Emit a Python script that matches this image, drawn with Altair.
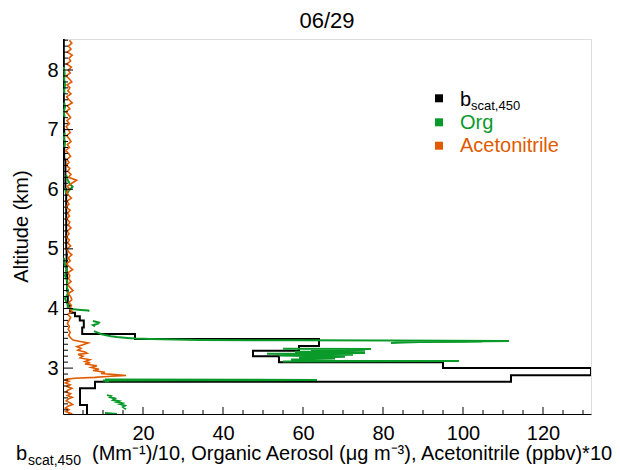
import altair as alt
import pandas as pd

FONT = "Liberation Sans"
W, H = 528, 375
XMAX = 132
YMIN, YMAX = 2.23, 8.52

BLACK = "#000000"
GREEN = "#0a9a2a"
ORANGE = "#e05a00"

# ---- b_scat,450 / 10 : binned step profile (bin edges in km, values) ----
bscat_edges = [2.23, 2.38, 2.66, 2.77, 2.88, 3.00, 3.10, 3.20, 3.29, 3.37, 3.49,
               3.57, 3.68, 3.80, 3.87, 3.93, 4.05, 4.30, 4.60, 5.00, 5.50, 6.00,
               6.50, 7.00, 8.52]
bscat_vals = [6.0, 4.25, 8.0, 112.0, 132.0, 95.0, 54.0, 47.5, 59.0, 64.0, 18.0,
              4.8, 5.2, 4.2, 3.0, 1.8, 1.2, 1.0, 0.9, 0.8, 0.8, 0.6, 0.3, 0.2]

# ---- Organic aerosol (segments separated by data gaps) ----
org_alt = [8.05, 7.95, 7.85, 7.75, 7.65, 7.60,
           7.45, 7.38, 7.30, 7.20,
           6.95, 6.85, 6.78, 6.70,
           6.24, 6.15, 6.08, 6.04, 5.98, 5.93, 5.95, 6.02,
           4.85, 4.75, 4.65, 4.55, 4.45, 4.36, 4.25, 4.17, 4.10, 4.06, 4.02, 3.99, 3.975, 3.965, 3.955,
           3.79, 3.765, 3.745, 3.72, 3.70,
           3.62, 3.60, 3.587, 3.57, 3.554, 3.535, 3.52, 3.505, 3.495, 3.487, 3.478, 3.47,
           3.468, 3.462, 3.455, 3.448, 3.442, 3.436, 3.43, 3.42,
           3.325, 3.32, 3.305, 3.29, 3.275, 3.255, 3.24, 3.225, 3.21, 3.19, 3.175, 3.16,
           3.145, 3.125, 3.117, 3.112,
           2.81, 2.80, 2.795, 2.79, 2.78, 2.77,
           2.547, 2.53, 2.513, 2.49, 2.463, 2.445, 2.43, 2.41, 2.396, 2.37, 2.346, 2.31,
           2.245, 2.237, 2.23]
org_val = [0.2, 0.4, 0.3, 0.5, 0.3, 0.4,
           0.3, 0.5, 0.2, 0.4,
           0.4, 0.2, 0.5, 0.3,
           0.8, 1.2, 1.8, 2.4, 1.5, 1.0, 0.7, 0.6,
           0.3, 0.4, 0.9, 0.5, 1.1, 1.0, 1.3, 0.5, 0.9, 1.3, 1.2, 2.0, 4.5, 6.3, 6.6,
           7.5, 9.0, 8.75, 7.5, 8.0,
           7.75, 8.5, 9.0, 9.5, 10.5, 12.0, 13.5, 16.0, 18.0, 21.75, 28.0, 34.25,
           59.25, 81.75, 111.5, 100.0, 104.75, 89.25, 85.0, 82.0,
           55.0, 77.0, 62.0, 75.5, 58.0, 75.5, 51.0, 72.5, 54.0, 70.5, 59.0, 68.0,
           57.0, 64.0, 99.0, 55.0,
           10.5, 63.5, 30.0, 10.0, 11.5, 10.5,
           11.0, 12.0, 11.75, 13.0, 12.5, 14.0, 13.5, 14.8, 14.25, 15.5, 15.0, 15.75,
           10.5, 12.0, 13.5]
org_seg = ([0] * 6 + [1] * 4 + [2] * 4 + [3] * 8 + [4] * 15 + [5] * 5 +
           [6] * 20 + [7] * 16 + [8] * 6 + [9] * 12 + [10] * 3)

# ---- Acetonitrile * 10 ----
acn_alt = [8.50, 8.45, 8.40, 8.35, 8.30, 8.25, 8.20, 8.15, 8.10, 8.05,
           8.00, 7.95, 7.90, 7.85, 7.80, 7.75, 7.70, 7.65, 7.60, 7.55,
           7.50, 7.45, 7.40, 7.35, 7.30, 7.25, 7.20, 7.15, 7.10, 7.05,
           7.00, 6.95, 6.90, 6.85, 6.80, 6.75, 6.70, 6.65, 6.60, 6.55,
           6.50, 6.45, 6.40, 6.35, 6.30, 6.25, 6.20, 6.15, 6.10, 6.05,
           6.00, 5.95, 5.90, 5.85, 5.80, 5.75, 5.70, 5.65, 5.60, 5.55,
           5.50, 5.45, 5.40, 5.35, 5.30, 5.25, 5.20, 5.15, 5.10, 5.05,
           5.00, 4.95, 4.90, 4.85, 4.80, 4.75, 4.70, 4.65, 4.60, 4.55,
           4.50, 4.45, 4.40, 4.35, 4.30, 4.25, 4.20, 4.15, 4.10, 4.05,
           4.00, 3.95, 3.90, 3.85, 3.80, 3.75, 3.70, 3.65, 3.60, 3.55,
           3.50, 3.47, 3.45, 3.42, 3.39, 3.36, 3.33, 3.30, 3.27, 3.25,
           3.23, 3.20, 3.17, 3.14, 3.11, 3.09, 3.07, 3.04, 3.01, 2.98,
           2.96, 2.93, 2.91, 2.89, 2.875, 2.86, 2.845, 2.83, 2.815, 2.80,
           2.78, 2.75, 2.72, 2.69, 2.66, 2.63, 2.60, 2.57, 2.54, 2.51,
           2.48, 2.45, 2.42, 2.39, 2.36, 2.33, 2.30, 2.27, 2.24, 2.23]
acn_val = [1.6, 2.2, 1.4, 2.0, 1.1, 2.3, 1.5, 1.9, 0.9, 2.1,
           1.3, 1.8, 0.8, 1.6, 2.2, 1.0, 1.7, 1.2, 2.0, 0.9,
           1.5, 2.3, 1.1, 1.7, 0.7, 1.4, 1.9, 1.0, 1.6, 0.8,
           1.3, 1.8, 0.9, 1.5, 2.0, 1.1, 1.6, 0.7, 1.4, 1.9,
           1.0, 1.5, 0.8, 1.7, 1.2, 2.0, 1.4, 3.4, 2.2, 1.1,
           1.6, 0.9, 1.4, 2.1, 1.0, 1.5, 0.7, 1.8, 1.2, 1.6,
           0.9, 1.7, 1.3, 2.0, 1.1, 1.5, 0.8, 1.6, 1.2, 1.9,
           1.0, 1.4, 2.2, 1.3, 1.8, 0.9, 1.6, 2.4, 1.2, 1.7,
           1.4, 2.0, 1.1, 1.8, 2.5, 1.3, 1.9, 2.2, 1.5, 2.1,
           1.6, 2.3, 1.2, 1.9, 1.5, 1.1, 1.6, 1.3, 1.8, 1.4,
           2.0, 2.5, 4.0, 6.3, 5.0, 3.5, 4.5, 3.7, 5.5, 6.0,
           3.8, 5.0, 4.3, 6.7, 5.5, 6.8, 5.5, 8.5, 7.0, 9.0,
           7.5, 10.5, 9.5, 13.0, 15.75, 11.0, 8.0, 3.0, 1.0, 0.5,
           1.5, 0.6, 1.8, 1.0, 2.2, 1.2, 0.7, 1.9, 1.1, 2.3,
           1.3, 0.8, 1.7, 2.4, 1.2, 0.6, 1.5, 0.7, 1.9, 1.3]

# ---- axis ticks (drawn inward) ----
x_major = [20, 40, 60, 80, 100, 120]
x_minor = [5, 10, 15, 25, 30, 35, 45, 50, 55, 65, 70, 75, 85, 90, 95,
           105, 110, 115, 125, 130]
y_major = [3, 4, 5, 6, 7, 8]
y_minor = [2.3, 2.4, 2.5, 2.6, 2.7, 2.8, 2.9, 3.1, 3.2, 3.3, 3.4, 3.5, 3.6,
           3.7, 3.8, 3.9, 4.1, 4.2, 4.3, 4.4, 4.5, 4.6, 4.7, 4.8, 4.9, 5.1,
           5.2, 5.3, 5.4, 5.5, 5.6, 5.7, 5.8, 5.9, 6.1, 6.2, 6.3, 6.4, 6.5,
           6.6, 6.7, 6.8, 6.9, 7.1, 7.2, 7.3, 7.4, 7.5, 7.6, 7.7, 7.8, 7.9,
           8.1, 8.2, 8.3, 8.4, 8.5]

# ---------------- build tables ----------------
bs_rows = []
for i, v in enumerate(bscat_vals):
    bs_rows.append({"alt": bscat_edges[i], "val": v, "o": 2 * i})
    bs_rows.append({"alt": bscat_edges[i + 1], "val": v, "o": 2 * i + 1})
bs_df = pd.DataFrame(bs_rows)
org_df = pd.DataFrame({"alt": org_alt, "val": org_val, "seg": org_seg,
                       "o": list(range(len(org_alt)))})
acn_df = pd.DataFrame({"alt": acn_alt, "val": acn_val,
                       "o": list(range(len(acn_alt)))})

xs = alt.Scale(domain=[0, XMAX], nice=False, zero=False)
ys = alt.Scale(domain=[YMIN, YMAX], nice=False, zero=False)
xaxis = alt.Axis(values=x_major, ticks=False, grid=False, title=None,
                 labelFont=FONT, labelFontSize=20, labelColor="black",
                 labelPadding=9, domainColor="black", domainWidth=1)
yaxis = alt.Axis(values=y_major, ticks=False, grid=False, title=None,
                 labelFont=FONT, labelFontSize=20, labelColor="black",
                 labelPadding=5, domainColor="black", domainWidth=1)

X = lambda: alt.X("val:Q", scale=xs, axis=xaxis)
Y = lambda: alt.Y("alt:Q", scale=ys, axis=yaxis)

bs_line = alt.Chart(bs_df).mark_line(color=BLACK, strokeWidth=2, clip=True).encode(
    x=X(), y=Y(), order="o:Q")
org_line = alt.Chart(org_df).mark_line(color=GREEN, strokeWidth=2, clip=True).encode(
    x=X(), y=Y(), detail="seg:N", order="o:Q")
acn_line = alt.Chart(acn_df).mark_line(color=ORANGE, strokeWidth=1.6, clip=True).encode(
    x=X(), y=Y(), order="o:Q")

xt_major = alt.Chart(pd.DataFrame({"val": x_major})).mark_rule(color="black").encode(
    x=X(), y=alt.value(H), y2=alt.value(H - 7))
xt_minor = alt.Chart(pd.DataFrame({"val": x_minor})).mark_rule(color="black").encode(
    x=X(), y=alt.value(H), y2=alt.value(H - 4))
yt_major = alt.Chart(pd.DataFrame({"alt": y_major})).mark_rule(color="black").encode(
    y=Y(), x=alt.value(0), x2=alt.value(10))
yt_minor = alt.Chart(pd.DataFrame({"alt": y_minor})).mark_rule(color="black").encode(
    y=Y(), x=alt.value(0), x2=alt.value(5))


def txt(s, x, y, size=20, color="black", align="left", baseline="alphabetic", angle=0):
    m = alt.Chart(pd.DataFrame({"t": [s]})).mark_text(
        font=FONT, fontSize=size, color=color, align=align, baseline=baseline,
        angle=angle)
    return m.encode(text="t:N", x=alt.value(x), y=alt.value(y))


def sq(color, y):
    return alt.Chart(pd.DataFrame({"c": [color]})).mark_square(
        color=color, size=64, opacity=1, filled=True).encode(
        x=alt.value(376), y=alt.value(y))


labels = [
    txt("06/29", W / 2, -11, size=22, align="center"),
    txt("Altitude (km)", -41, H / 2, size=20, align="center", baseline="middle", angle=270),
    txt("b", -47, 421),
    txt("scat,450", -35, 426, size=14),
    txt("(Mm⁻¹)/10, Organic Aerosol (μg m⁻³), Acetonitrile (ppbv)*10", 29, 421),
    sq(BLACK, 59.3), sq(GREEN, 83.3), sq(ORANGE, 106.7),
    txt("b", 397, 66.7, color=BLACK),
    txt("scat,450", 408, 70.5, size=13, color=BLACK),
    txt("Org", 397, 90, color=GREEN),
    txt("Acetonitrile", 397, 113.3, color=ORANGE),
]

chart = alt.layer(bs_line, org_line, acn_line, xt_major, xt_minor, yt_major, yt_minor,
                  *labels).properties(
    width=W, height=H,
    autosize=alt.AutoSizeParams(type="none"),
    padding={"left": 55, "top": 31, "right": 21, "bottom": 55},
).configure_view(stroke=None).configure(background="white")

chart.save("out.html", embed_options={"renderer": "svg", "actions": False})
